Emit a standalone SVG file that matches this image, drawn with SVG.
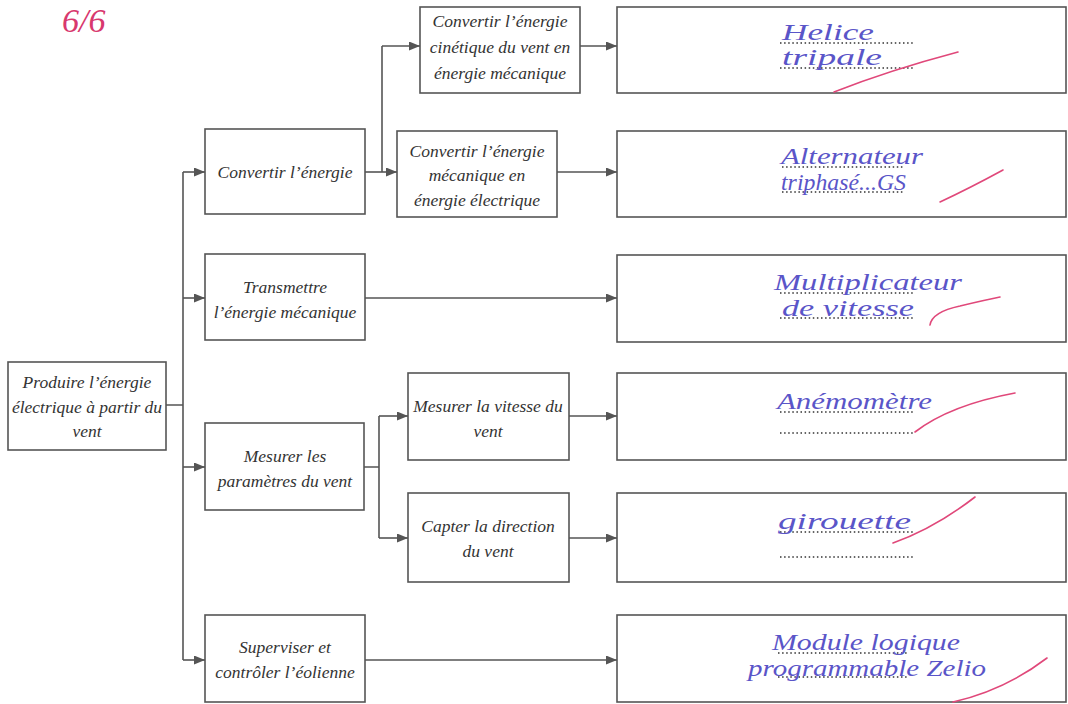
<svg xmlns="http://www.w3.org/2000/svg" width="1068" height="704" viewBox="0 0 1068 704">
<defs>
<marker id="ah" markerUnits="userSpaceOnUse" markerWidth="11" markerHeight="9" refX="11" refY="4.5" orient="auto">
<path d="M0,0 L11,4.5 L0,9 z" fill="#555"/>
</marker>
<style>
.box{fill:#fff;stroke:#555;stroke-width:1.6}
.t{font-family:"Liberation Serif",serif;font-style:italic;font-size:17.5px;fill:#333;text-anchor:middle}
.c{fill:none;stroke:#555;stroke-width:1.6}
.a{fill:none;stroke:#555;stroke-width:1.6;marker-end:url(#ah)}
.h{font-family:"Liberation Serif",serif;font-style:italic;font-size:23px;fill:#5a55c8}
.d{stroke:#333;stroke-width:1.6;stroke-dasharray:1.5 2.6;fill:none}
.r{fill:none;stroke:#e0487a;stroke-width:1.6;stroke-linecap:round}
</style>
</defs>
<rect width="1068" height="704" fill="#fff"/>
<text x="62" y="32" font-family="Liberation Serif,serif" font-style="italic" font-size="34" fill="#d8386e">6/6</text>

<g id="connectors">
<path class="c" d="M166,405 H183 M183,172 V660"/>
<path class="a" d="M183,172 H205"/>
<path class="a" d="M183,298 H205"/>
<path class="a" d="M183,467 H205"/>
<path class="a" d="M183,660 H205"/>
<path class="a" d="M365,172 H397"/>
<path class="c" d="M382,172 V46"/>
<path class="a" d="M382,46 H420"/>
<path class="a" d="M580,46 H617"/>
<path class="a" d="M557,172 H617"/>
<path class="a" d="M365,298 H617"/>
<path class="c" d="M364,467 H379 M379,416 V538"/>
<path class="a" d="M379,416 H408"/>
<path class="a" d="M379,538 H408"/>
<path class="a" d="M569,416 H617"/>
<path class="a" d="M569,538 H617"/>
<path class="a" d="M365,660 H617"/>
</g>

<g id="n-produire"><rect class="box" x="8" y="362" width="158" height="88"/>
<text class="t" x="87" y="388">Produire l’énergie</text><text class="t" x="87" y="413">électrique à partir du</text><text class="t" x="87" y="437">vent</text></g>

<g id="n-convertir"><rect class="box" x="205" y="129" width="160" height="85"/>
<text class="t" x="285" y="178">Convertir l’énergie</text></g>

<g id="n-cinetique"><rect class="box" x="420" y="7" width="160" height="86"/>
<text class="t" x="500" y="27">Convertir l’énergie</text><text class="t" x="500" y="53">cinétique du vent en</text><text class="t" x="500" y="79">énergie mécanique</text></g>

<g id="n-electrique"><rect class="box" x="397" y="131" width="160" height="86"/>
<text class="t" x="477" y="157">Convertir l’énergie</text><text class="t" x="477" y="181">mécanique en</text><text class="t" x="477" y="206">énergie électrique</text></g>

<g id="n-transmettre"><rect class="box" x="205" y="254" width="160" height="86"/>
<text class="t" x="285" y="293">Transmettre</text><text class="t" x="285" y="318">l’énergie mécanique</text></g>

<g id="n-mesurer"><rect class="box" x="205" y="423" width="159" height="87"/>
<text class="t" x="285" y="462">Mesurer les</text><text class="t" x="285" y="487">paramètres du vent</text></g>

<g id="n-vitesse"><rect class="box" x="408" y="373" width="161" height="87"/>
<text class="t" x="488" y="412">Mesurer la vitesse du</text><text class="t" x="488" y="437">vent</text></g>

<g id="n-direction"><rect class="box" x="408" y="493" width="161" height="89"/>
<text class="t" x="488" y="532">Capter la direction</text><text class="t" x="488" y="557">du vent</text></g>

<g id="n-superviser"><rect class="box" x="205" y="615" width="160" height="87"/>
<text class="t" x="285" y="653">Superviser et</text><text class="t" x="285" y="678">contrôler l’éolienne</text></g>

<g id="r-helice"><rect class="box" x="617" y="7" width="449" height="86"/>
<path class="d" d="M780,43 H913 M780,68 H913"/>
<text class="h" x="782" y="40" textLength="92" lengthAdjust="spacingAndGlyphs">Helice</text><text class="h" x="782" y="65" textLength="100" lengthAdjust="spacingAndGlyphs">tripale</text>
<path class="r" d="M834,92 Q890,70 958,52"/></g>

<g id="r-alternateur"><rect class="box" x="617" y="131" width="449" height="86"/>
<path class="d" d="M782,167 H905 M782,192 H905"/>
<text class="h" x="781" y="164" textLength="142" lengthAdjust="spacingAndGlyphs">Alternateur</text><text class="h" x="781" y="190" textLength="125" lengthAdjust="spacingAndGlyphs">triphasé...GS</text>
<path class="r" d="M940,202 Q970,188 1003,170"/></g>

<g id="r-multiplicateur"><rect class="box" x="617" y="255" width="449" height="87"/>
<path class="d" d="M780,293 H913 M780,318 H913"/>
<text class="h" x="774" y="290" textLength="188" lengthAdjust="spacingAndGlyphs">Multiplicateur</text><text class="h" x="782" y="316" textLength="132" lengthAdjust="spacingAndGlyphs">de vitesse</text>
<path class="r" d="M930,325 Q932,312 960,306 Q985,300 1000,297"/></g>

<g id="r-anemometre"><rect class="box" x="617" y="373" width="449" height="87"/>
<path class="d" d="M780,412 H913 M780,433 H913"/>
<text class="h" x="777" y="409" textLength="155" lengthAdjust="spacingAndGlyphs">Anémomètre</text>
<path class="r" d="M915,432 Q950,405 1015,393"/></g>

<g id="r-girouette"><rect class="box" x="617" y="493" width="449" height="89"/>
<path class="d" d="M780,532 H913 M780,557 H913"/>
<text class="h" x="778" y="529" textLength="133" lengthAdjust="spacingAndGlyphs">girouette</text>
<path class="r" d="M893,543 Q935,528 975,497"/></g>

<g id="r-module"><rect class="box" x="617" y="615" width="449" height="87"/>
<path class="d" d="M778,653 H908 M778,677 H908"/>
<text class="h" x="772" y="650" textLength="188" lengthAdjust="spacingAndGlyphs">Module logique</text><text class="h" x="748" y="676" textLength="238" lengthAdjust="spacingAndGlyphs">programmable Zelio</text>
<path class="r" d="M953,702 Q1005,690 1047,658"/></g>
</svg>
